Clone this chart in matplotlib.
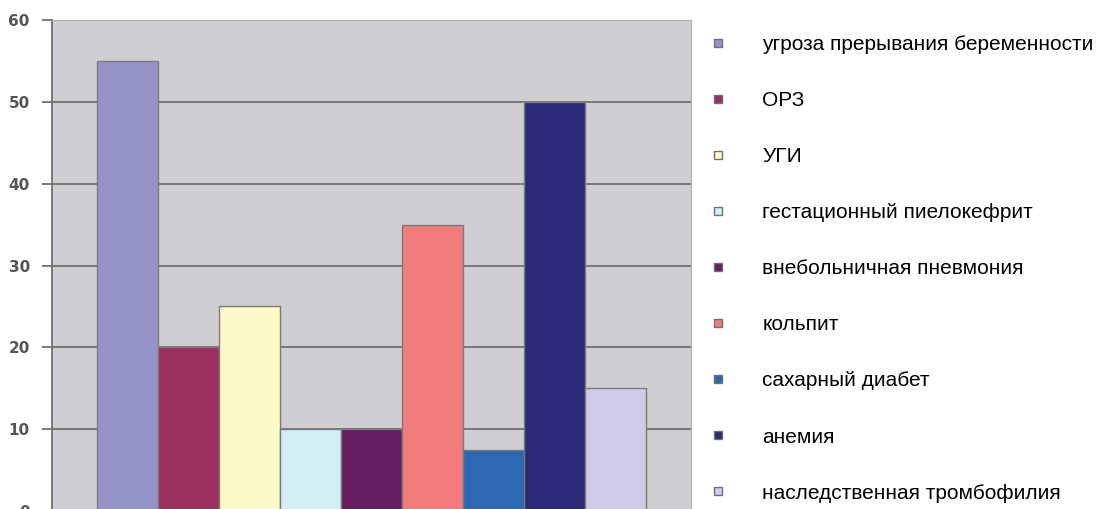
import matplotlib
matplotlib.use('Agg')
import matplotlib.pyplot as plt
from matplotlib.lines import Line2D

# данные с диаграммы
labels = ['угроза прерывания беременности', 'ОРЗ', 'УГИ', 'гестационный пиелокефрит',
          'внебольничная пневмония', 'кольпит', 'сахарный диабет', 'анемия',
          'наследственная тромбофилия']
values = [55, 20, 25, 10, 10, 35, 7.5, 50, 15]
colors = ['#9494c8', '#9c3060', '#fdf9c8', '#d0eef4', '#661e62',
          '#f27c7c', '#2c68b2', '#2a2a78', '#d0cbe8']
yticks = [0, 10, 20, 30, 40, 50, 60]

fig = plt.figure(figsize=(11, 5.09), dpi=100)
ax = fig.add_axes([52 / 1100, -2 / 509, 639 / 1100, 491 / 509])
ax.set_facecolor('#cfcfd3')

x = list(range(len(values)))
ax.bar(x, values, width=1.0, color=colors, edgecolor='#7a7a7a', linewidth=1, zorder=3)

ax.set_xlim(-1.23, 9.23)
ax.set_ylim(0, 60)
ax.set_yticks(yticks)
ax.set_xticks([])
ax.grid(axis='y', color='#707070', linewidth=1.3, zorder=1)
ax.tick_params(axis='y', length=7, width=1.3, color='#707070', labelsize=11,
               labelcolor='#555555', pad=9)
for lbl in ax.get_yticklabels():
    lbl.set_fontweight('bold')

for side in ['top', 'right', 'bottom']:
    ax.spines[side].set_color('#b0b0b0')
ax.spines['left'].set_color('#707070')
ax.spines['left'].set_linewidth(1.3)

handles = [Line2D([], [], linestyle='none', marker='s', markersize=6,
                  markerfacecolor=c, markeredgecolor='#707070', markeredgewidth=1)
           for c in colors]
fig.legend(handles, labels, loc='upper left', bbox_to_anchor=(705 / 1100, 1 - 35 / 509),
           frameon=False, prop={'family': 'Liberation Sans', 'size': 15},
           labelspacing=1.78, handletextpad=1.55, handlelength=1.2,
           borderpad=0, borderaxespad=0)

fig.savefig('out.png', dpi=100)
